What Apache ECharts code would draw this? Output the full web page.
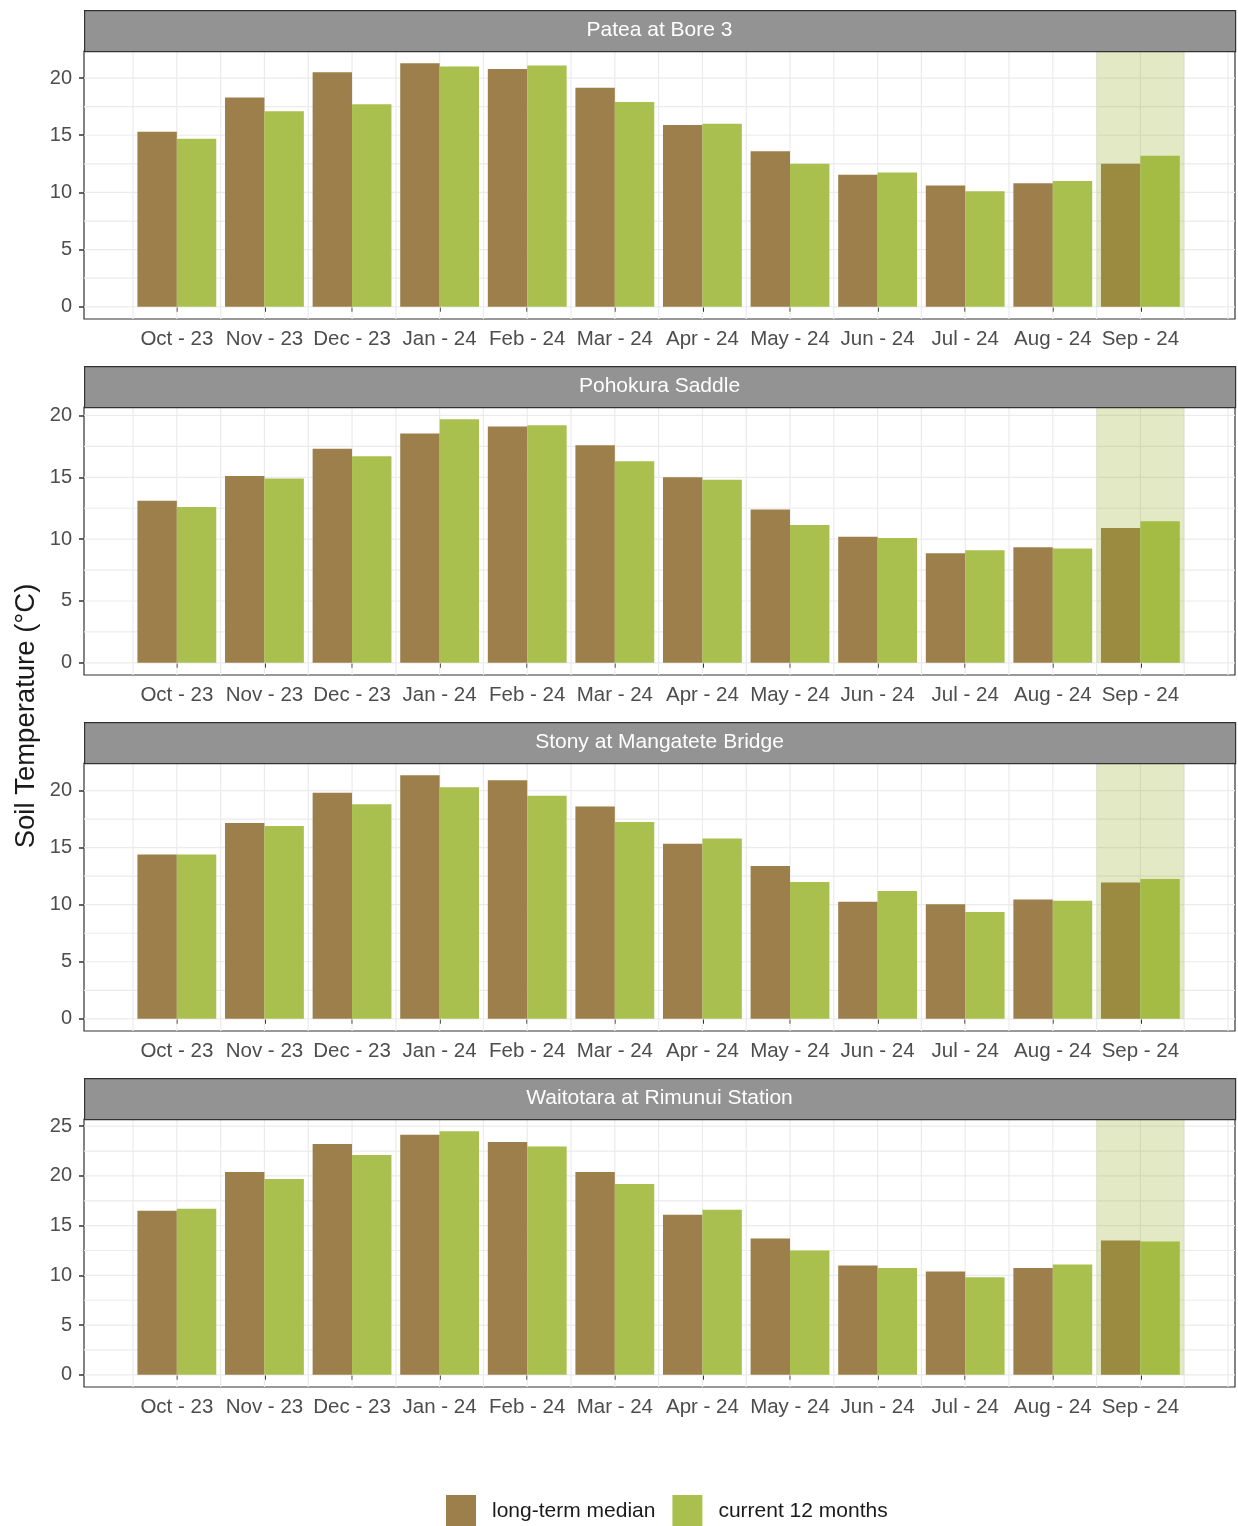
<!DOCTYPE html>
<html><head><meta charset="utf-8">
<script src="https://cdn.jsdelivr.net/npm/echarts@6/dist/echarts.min.js"></script>
<style>html,body{margin:0;padding:0;background:#fff}#c{width:1238px;height:1526px}</style>
</head><body><div id="c"></div>
<script>
// ---- data ----
const months = ['Oct - 23','Nov - 23','Dec - 23','Jan - 24','Feb - 24','Mar - 24','Apr - 24','May - 24','Jun - 24','Jul - 24','Aug - 24','Sep - 24'];
const sites = ['Patea at Bore 3','Pohokura Saddle','Stony at Mangatete Bridge','Waitotara at Rimunui Station'];
const seriesNames = ['long-term median','current 12 months'];
const highlightMonth = 'Sep - 24';
const yTickStep = 5;

const medianPatea     = [15.3, 18.3, 20.5, 21.3, 20.8, 19.15, 15.9, 13.6, 11.55, 10.6, 10.8, 12.5];
const currentPatea    = [14.7, 17.1, 17.7, 21.0, 21.1, 17.9, 16.0, 12.5, 11.75, 10.1, 11.0, 13.2];
const medianPohokura  = [13.1, 15.1, 17.3, 18.55, 19.1, 17.6, 15.0, 12.4, 10.2, 8.85, 9.35, 10.9];
const currentPohokura = [12.6, 14.9, 16.7, 19.7, 19.2, 16.3, 14.8, 11.15, 10.1, 9.1, 9.25, 11.45];
const medianStony     = [14.4, 17.15, 19.8, 21.35, 20.9, 18.6, 15.35, 13.4, 10.25, 10.05, 10.45, 11.95];
const currentStony    = [14.4, 16.9, 18.8, 20.3, 19.55, 17.25, 15.8, 12.0, 11.2, 9.35, 10.35, 12.25];
const medianWaitotara = [16.5, 20.4, 23.2, 24.15, 23.4, 20.4, 16.1, 13.7, 11.0, 10.4, 10.75, 13.5];
const currentWaitotara= [16.7, 19.7, 22.1, 24.5, 22.95, 19.2, 16.6, 12.5, 10.75, 9.8, 11.1, 13.4];

const panelMedians = [medianPatea, medianPohokura, medianStony, medianWaitotara];
const panelCurrents = [currentPatea, currentPohokura, currentStony, currentWaitotara];

// ---- layout / style ----
const FONT = "'Liberation Sans', Arial, sans-serif";
const BROWN = '#9C7F4A', GREEN = '#A9C04F';
const SHADE = 'rgba(150,175,40,0.27)';
const FRAME_LEFT = 84, FRAME_W = 1151, FRAME_H = 268, STRIP_H = 41;
const FRAME_TOPS = [51, 407, 763, 1119];
const XLO = -1.06, XHI = 12.08;
const unit = FRAME_W / (XHI - XLO);
const dataLeft = FRAME_LEFT + unit * (-0.5 - XLO);
const dataW = unit * months.length;

const grids = [], xAxes = [], yAxes = [], series = [], graphics = [];
const vLines = [];
for (let v = -0.5; v <= 12.001; v += 0.5) vLines.push([v, 0]);
const hiIdx = months.indexOf(highlightMonth);

panelMedians.forEach((med, p) => {
  const cur = panelCurrents[p];
  const mx = Math.max(...med, ...cur);
  const lo = -0.05 * mx, hi = 1.05 * mx, span = hi - lo;
  const ymax = Math.floor(hi / yTickStep) * yTickStep;
  const ft = FRAME_TOPS[p];
  const fg = 2 * p, dg = 2 * p + 1;
  grids.push({left: FRAME_LEFT, top: ft, width: FRAME_W, height: FRAME_H, show: true,
    borderColor: '#333', borderWidth: 1.2, backgroundColor: '#fff', z: 0});
  grids.push({left: dataLeft, top: ft + FRAME_H * (hi - ymax) / span, width: dataW,
    height: FRAME_H * ymax / span});
  xAxes.push({gridIndex: fg, type: 'value', min: XLO, max: XHI, show: false});
  yAxes.push({gridIndex: fg, type: 'value', min: lo, max: hi, show: false});
  xAxes.push({gridIndex: dg, type: 'category', data: months, offset: FRAME_H * (-lo) / span,
    axisLine: {show: false},
    axisTick: {show: true, alignWithLabel: true, length: 5, lineStyle: {color: '#333', width: 2}},
    axisLabel: {interval: 0, fontSize: 20.5, color: '#4d4d4d', margin: 10, fontFamily: FONT},
    splitLine: {show: false}});
  yAxes.push({gridIndex: dg, type: 'value', min: 0, max: ymax, interval: yTickStep,
    offset: dataLeft - FRAME_LEFT,
    axisLine: {show: false},
    axisTick: {show: true, length: 5, lineStyle: {color: '#333', width: 1.5}},
    axisLabel: {fontSize: 20, color: '#4d4d4d', margin: 12, fontFamily: FONT},
    splitLine: {show: false}});
  const hLines = [];
  for (let v = 0; v <= hi + 1e-9; v += yTickStep / 2) hLines.push([0, v]);
  series.push({type: 'custom', xAxisIndex: fg, yAxisIndex: fg, z: 1, silent: true, data: vLines,
    renderItem: (params, api) => {
      const cs = params.coordSys; const x = api.coord([api.value(0), 0])[0];
      return {type: 'line', shape: {x1: x, y1: cs.y, x2: x, y2: cs.y + cs.height},
        style: {stroke: '#ebebeb', lineWidth: 1.2}};
    }});
  series.push({type: 'custom', xAxisIndex: fg, yAxisIndex: fg, z: 1, silent: true, data: hLines,
    renderItem: (params, api) => {
      const cs = params.coordSys; const y = api.coord([0, api.value(1)])[1];
      return {type: 'line', shape: {x1: cs.x, y1: y, x2: cs.x + cs.width, y2: y},
        style: {stroke: '#ebebeb', lineWidth: 1.2}};
    }});
  series.push({type: 'bar', name: seriesNames[0], xAxisIndex: dg, yAxisIndex: dg, data: med,
    barGap: '0%', barCategoryGap: '10%', clip: false, z: 2, itemStyle: {color: BROWN}});
  series.push({type: 'bar', name: seriesNames[1], xAxisIndex: dg, yAxisIndex: dg, data: cur,
    barGap: '0%', barCategoryGap: '10%', clip: false, z: 2, itemStyle: {color: GREEN}});
  series.push({type: 'custom', xAxisIndex: fg, yAxisIndex: fg, z: 5, silent: true,
    data: [[hiIdx - 0.5, hiIdx + 0.5, 0, hi]], encode: {x: [0, 1], y: [2, 3]},
    renderItem: (params, api) => {
      const a = api.coord([api.value(0), api.value(3)]);
      const b = api.coord([api.value(1), api.value(2)]);
      return {type: 'rect', shape: {x: a[0], y: a[1], width: b[0] - a[0], height: b[1] - a[1]},
        style: {fill: SHADE}};
    }});
  graphics.push({type: 'rect', left: FRAME_LEFT, top: ft - STRIP_H, z: 10,
    shape: {x: 0, y: 0, width: FRAME_W, height: STRIP_H},
    style: {fill: '#939393', stroke: '#333', lineWidth: 1.2}});
  graphics.push({type: 'text', x: FRAME_LEFT + FRAME_W / 2, y: ft - STRIP_H / 2, z: 11,
    style: {text: sites[p], fill: '#fff', font: '21px ' + FONT, textAlign: 'center', textVerticalAlign: 'middle'}});
});

graphics.push({type: 'text', x: 26, y: 716, rotation: Math.PI / 2, z: 11,
  style: {text: 'Soil Temperature (°C)', fill: '#1a1a1a', font: '27.5px ' + FONT,
    textAlign: 'center', textVerticalAlign: 'middle'}});

const chart = echarts.init(document.getElementById('c'), null, {renderer: 'canvas'});
chart.setOption({
  animation: false,
  backgroundColor: '#fff',
  grid: grids, xAxis: xAxes, yAxis: yAxes, series: series, graphic: graphics,
  legend: {data: seriesNames, left: 446, top: 1495, padding: 0, itemWidth: 30, itemHeight: 32, itemGap: 17,
    icon: 'rect', selectedMode: false,
    textStyle: {fontSize: 21, color: '#1a1a1a', fontFamily: FONT, padding: [0, 0, 0, 11]}}
});
</script></body></html>
